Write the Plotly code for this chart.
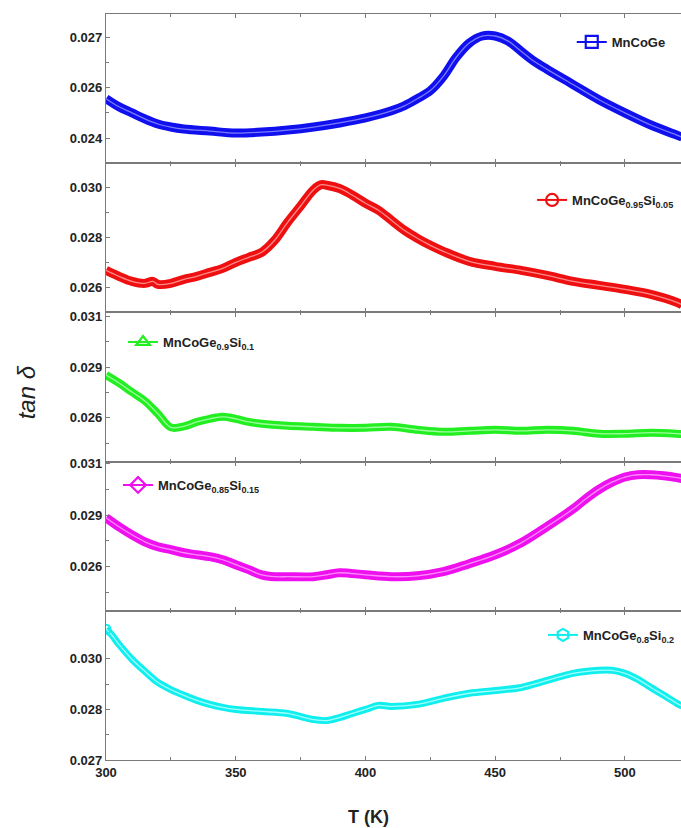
import plotly.graph_objects as go
from plotly.subplots import make_subplots

# ---------------- data ----------------
T_blue = [300, 305, 310, 315, 320, 325, 330, 340, 350, 360, 370, 380, 390, 400, 410, 415,
          420, 425, 430, 435, 440, 445, 450, 455, 460, 465, 470, 480, 490, 500, 510, 520, 522]
tan_blue = [0.02517, 0.02493, 0.02475, 0.02457, 0.02442, 0.02433, 0.02427, 0.02421, 0.02415,
            0.02418, 0.02424, 0.02433, 0.02445, 0.02460, 0.02481, 0.02496, 0.02517, 0.02541,
            0.02583, 0.02640, 0.02682, 0.02703, 0.02703, 0.02688, 0.02658, 0.02628, 0.02604,
            0.02559, 0.02514, 0.02475, 0.02439, 0.02409, 0.02403]

T_red = [300, 305, 310, 315, 318, 320, 325, 330, 335, 340, 345, 350, 355, 360, 365, 370, 375,
         380, 383, 385, 390, 395, 400, 405, 410, 415, 420, 425, 430, 440, 450, 460, 470, 480,
         490, 500, 510, 520, 522]
tan_red = [0.02668, 0.02644, 0.02624, 0.02616, 0.02624, 0.02612, 0.02616, 0.02632, 0.02644,
           0.02660, 0.02676, 0.02700, 0.02720, 0.02740, 0.02788, 0.02860, 0.02925, 0.02990,
           0.03010, 0.03008, 0.02995, 0.02968, 0.02936, 0.02908, 0.02868, 0.02828, 0.02796,
           0.02768, 0.02744, 0.02704, 0.02684, 0.02668, 0.02648, 0.02624, 0.02608, 0.02592,
           0.02572, 0.02540, 0.02530]

T_green = [300, 305, 310, 315, 320, 325, 330, 335, 340, 345, 350, 355, 360, 370, 380, 390, 400,
           410, 420, 430, 440, 450, 460, 470, 480, 490, 500, 510, 520, 522]
tan_green = [0.02811, 0.02772, 0.02727, 0.02683, 0.02620, 0.02553, 0.02558, 0.02580, 0.02595,
             0.02605, 0.02595, 0.02580, 0.02571, 0.02561, 0.02556, 0.02551, 0.02551, 0.02556,
             0.02541, 0.02531, 0.02536, 0.02541, 0.02536, 0.02541, 0.02536, 0.02522, 0.02522,
             0.02527, 0.02522, 0.02520]

T_mag = [300, 305, 310, 315, 320, 325, 330, 335, 340, 345, 350, 355, 360, 365, 370, 380, 385,
         390, 400, 410, 420, 430, 440, 450, 460, 470, 480, 485, 490, 495, 500, 505, 510, 515,
         520, 522]
tan_mag = [0.02838, 0.02794, 0.02755, 0.02721, 0.02697, 0.02683, 0.02668, 0.02658, 0.02649,
           0.02634, 0.02610, 0.02586, 0.02561, 0.02552, 0.02552, 0.02552, 0.02561, 0.02571,
           0.02561, 0.02552, 0.02556, 0.02576, 0.02615, 0.02658, 0.02716, 0.02795, 0.02880,
           0.02930, 0.02975, 0.03010, 0.03035, 0.03046, 0.03046, 0.03041, 0.03032, 0.03027]

T_cyan = [300, 302, 305, 310, 315, 320, 325, 330, 335, 340, 345, 350, 360, 370, 380, 385, 390,
          395, 400, 405, 410, 420, 430, 440, 450, 460, 470, 480, 490, 495, 500, 505, 510, 515,
          520, 522]
tan_cyan = [0.03088, 0.03073, 0.03043, 0.02999, 0.02963, 0.02930, 0.02909, 0.02892, 0.02877,
            0.02865, 0.02856, 0.02850, 0.02844, 0.02838, 0.02820, 0.02817, 0.02826, 0.02838,
            0.02850, 0.02862, 0.02859, 0.02865, 0.02883, 0.02898, 0.02906, 0.02915, 0.02936,
            0.02957, 0.02966, 0.02966, 0.02957, 0.02939, 0.02915, 0.02892, 0.02868, 0.02860]

names = ["<b>MnCoGe</b>",
         "<b>MnCoGe<sub>0.95</sub>Si<sub>0.05</sub></b>",
         "<b>MnCoGe<sub>0.9</sub>Si<sub>0.1</sub></b>",
         "<b>MnCoGe<sub>0.85</sub>Si<sub>0.15</sub></b>",
         "<b>MnCoGe<sub>0.8</sub>Si<sub>0.2</sub></b>"]

x_ticks = [300, 350, 400, 450, 500]
x_ticklabels = ["300", "350", "400", "450", "500"]

y_ticks = [[0.024, 0.0255, 0.027],
           [0.026, 0.028, 0.030],
           [0.026, 0.0285, 0.031],
           [0.026, 0.0285, 0.031],
           [0.027, 0.0285, 0.030]]
y_ticklabels = [["0.024", "0.026", "0.027"],
                ["0.026", "0.028", "0.030"],
                ["0.026", "0.029", "0.031"],
                ["0.026", "0.029", "0.031"],
                ["0.027", "0.028", "0.030"]]
y_minor = [[0.02475, 0.02625],
           [0.025, 0.027, 0.029],
           [0.02475, 0.02725, 0.02975],
           [0.02475, 0.02725, 0.02975],
           [0.02775, 0.02925]]
y_ranges = [[0.023257, 0.027683],
            [0.025, 0.03096],
            [0.023844, 0.031196],
            [0.023866, 0.031097],
            [0.027, 0.031426]]

# ---------------- styles ----------------
series = [(T_blue, tan_blue), (T_red, tan_red), (T_green, tan_green),
          (T_mag, tan_mag), (T_cyan, tan_cyan)]
colors = ["#1010ee", "#ee1010", "#22ee22", "#ee10ee", "#10eeee"]
inner = ["#7a7aff", "#ff8a8a", "#9cff9c", "#ff8aff", "#a0ffff"]
symbols = ["square-open", "circle-open", "triangle-up-open", "diamond-open", "hexagon-open"]
band_w = [9, 9, 8, 9, 7]
legend_pos = [(0.810, 0.9625), (0.741, 0.7507), (0.0296, 0.5603), (0.0209, 0.3686), (0.760, 0.1676)]

FONT = "Liberation Sans, Arial, sans-serif"

fig = make_subplots(rows=5, cols=1, shared_xaxes=True, vertical_spacing=0)

for i, ((tx, ty), c) in enumerate(zip(series, colors)):
    r = i + 1
    lg = "legend" if i == 0 else f"legend{i + 1}"
    fig.add_trace(go.Scatter(x=tx, y=ty, mode="lines", line=dict(color=c, width=band_w[i], shape="spline"),
                             showlegend=False, hoverinfo="skip"), row=r, col=1)
    fig.add_trace(go.Scatter(x=tx, y=ty, mode="lines", line=dict(color=inner[i], width=1.3, shape="spline"),
                             showlegend=False, hoverinfo="skip"), row=r, col=1)
    fig.add_trace(go.Scatter(x=[None], y=[None], mode="lines+markers", name=names[i],
                             line=dict(color=c, width=2),
                             marker=dict(symbol=symbols[i], size=12, color=c, line=dict(width=2.2, color=c)),
                             legend=lg, showlegend=True), row=r, col=1)

# isolated first point of the last series
fig.add_trace(go.Scatter(x=[T_cyan[0]], y=[tan_cyan[0]], mode="markers",
                         marker=dict(symbol="circle-open", size=9, color=colors[4], line=dict(width=2)),
                         showlegend=False, hoverinfo="skip"), row=5, col=1)

axis_col = "#7a7a7a"
for i in range(5):
    r = i + 1
    fig.update_xaxes(range=[300, 521.6], showline=True, linecolor=axis_col, linewidth=1.3,
                     mirror="ticks", ticks="inside", ticklen=4, tickwidth=1, tickcolor=axis_col,
                     tickmode="array", tickvals=x_ticks, ticktext=x_ticklabels,
                     minor=dict(tickmode="array", tickvals=[325, 375, 425, 475, 525], ticks="inside",
                                ticklen=2.5, tickcolor=axis_col),
                     showgrid=False, zeroline=False,
                     showticklabels=(r == 5),
                     tickfont=dict(family=FONT, size=13, color="#222", weight="bold"),
                     row=r, col=1)
    fig.update_yaxes(range=y_ranges[i], showline=True, linecolor=axis_col, linewidth=1.3,
                     mirror=False, ticks="inside", ticklen=4, tickwidth=1, tickcolor=axis_col,
                     tickmode="array", tickvals=y_ticks[i], ticktext=y_ticklabels[i],
                     minor=dict(tickmode="array", tickvals=y_minor[i], ticks="inside",
                                ticklen=2.5, tickcolor=axis_col),
                     showgrid=False, zeroline=False,
                     tickfont=dict(family=FONT, size=13, color="#222", weight="bold"),
                     row=r, col=1)

layout_legends = {}
for i, (lx, ly) in enumerate(legend_pos):
    key = "legend" if i == 0 else f"legend{i + 1}"
    layout_legends[key] = dict(x=lx, y=ly, xanchor="left", yanchor="middle",
                               bgcolor="rgba(0,0,0,0)", borderwidth=0, itemwidth=30,
                               font=dict(family=FONT, size=13, color="#222"),
                               tracegroupgap=0)

fig.update_layout(
    width=681, height=828,
    margin=dict(l=106, r=0, t=14, b=68),
    paper_bgcolor="white", plot_bgcolor="white",
    font=dict(family=FONT, color="#222"),
    **layout_legends,
    annotations=[
        dict(text="<b>T (K)</b>", x=0.457, y=-0.0764, xref="paper", yref="paper",
             showarrow=False, font=dict(family=FONT, size=18, color="#222"),
             xanchor="center", yanchor="middle"),
        dict(text="<i>tan δ</i>", x=-0.139, y=0.493, xref="paper", yref="paper",
             showarrow=False, textangle=-90, font=dict(family=FONT, size=24, color="#222"),
             xanchor="center", yanchor="middle"),
    ],
)

fig.write_html("out.html")
